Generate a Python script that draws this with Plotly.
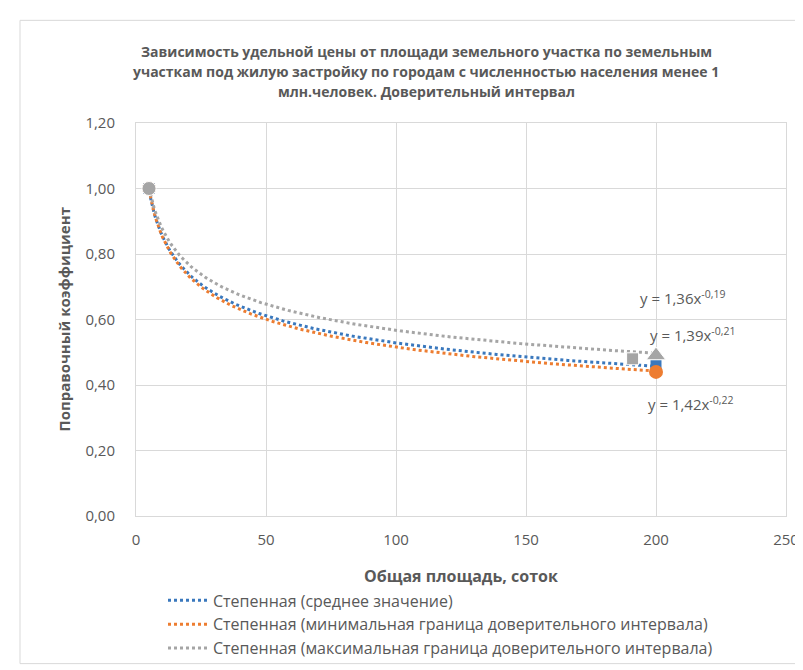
import numpy as np
import plotly.graph_objects as go

# ---- data ----
series_names = [
    "Степенная (среднее значение)",
    "Степенная (минимальная граница доверительного интервала)",
    "Степенная (максимальная граница доверительного интервала)",
]
series_colors = ["#3a78bd", "#ED7D31", "#A5A5A5"]
# trend-line coefficients as printed on the chart: y = a * x^b
trend_a = [1.39, 1.42, 1.36]
trend_b = [-0.21, -0.22, -0.19]
trend_labels = ["y = 1,39x<sup>-0,21</sup>", "y = 1,42x<sup>-0,22</sup>", "y = 1,36x<sup>-0,19</sup>"]
label_x = [197, 196, 193]
label_y = [0.553, 0.344, 0.666]

# observed points
mean_x = [5, 200]
mean_y = [1.00, 0.46]
min_x = [5, 200]
min_y = [1.00, 0.44]
max_x = [5, 191, 200]
max_y = [1.00, 0.48, 0.49]
max_symbols = ["circle", "square", "triangle-up"]

x_ticks = [0, 50, 100, 150, 200, 250]
y_ticks = [0.0, 0.2, 0.4, 0.6, 0.8, 1.0, 1.2]

title_lines = [
    "Зависимость удельной цены от площади земельного участка по земельным",
    "участкам под жилую застройку по городам с численностью населения менее 1",
    "млн.человек. Доверительный интервал",
]
x_title = "Общая площадь, соток"
y_title = "Поправочный коэффициент"

FONT = "Open Sans"
GRAY = "#595959"

fig = go.Figure()

# trend lines
x_start, x_end = min(mean_x), max(mean_x)
xs = np.linspace(x_start, x_end, 300)
for name, color, a, b in zip(series_names, series_colors, trend_a, trend_b):
    fig.add_trace(go.Scatter(
        x=xs, y=a * xs ** b, mode="lines", name=name,
        line=dict(color=color, width=3, dash="dot"),
        hoverinfo="skip",
    ))

# data points (not in legend)
fig.add_trace(go.Scatter(x=mean_x, y=mean_y, mode="markers", showlegend=False,
                         marker=dict(color=series_colors[0], size=11, symbol="square", opacity=1)))
fig.add_trace(go.Scatter(x=min_x, y=min_y, mode="markers", showlegend=False,
                         marker=dict(color=series_colors[1], size=14, symbol="circle", opacity=1)))
fig.add_trace(go.Scatter(x=max_x, y=max_y, mode="markers", showlegend=False,
                         marker=dict(color=series_colors[2], size=[14, 12, 17], symbol=max_symbols,
                                     opacity=1)))

annotations = []
# equation labels
for t, lx, ly in zip(trend_labels, label_x, label_y):
    annotations.append(dict(x=lx, y=ly, xref="x", yref="y", text=t, showarrow=False,
                            xanchor="left", yanchor="middle",
                            font=dict(family=FONT, size=15, color=GRAY)))

W, H = 803, 670
L, R, T, B = 128, 778, 115, 517
def px_to_py(py):
    return (B - py) / (B - T)
def px_to_px(px):
    return (px - L) / (R - L)

# title lines
for line, py in zip(title_lines, [42, 62, 83]):
    annotations.append(dict(x=px_to_px(418), y=px_to_py(py), xref="paper", yref="paper",
                            text="<b>" + line + "</b>", showarrow=False,
                            xanchor="center", yanchor="middle",
                            font=dict(family=FONT, size=14, color=GRAY)))
# axis titles
annotations.append(dict(x=0.5, y=px_to_py(578), xref="paper", yref="paper",
                        text="<b>" + x_title + "</b>", showarrow=False,
                        xanchor="center", yanchor="middle",
                        font=dict(family=FONT, size=16, color=GRAY)))
annotations.append(dict(x=px_to_px(55), y=0.5, xref="paper", yref="paper",
                        text="<b>" + y_title + "</b>", showarrow=False, textangle=-90,
                        xanchor="center", yanchor="middle",
                        font=dict(family=FONT, size=15, color=GRAY)))

shapes = [dict(type="rect", xref="paper", yref="paper",
               x0=px_to_px(12), x1=px_to_px(801), y0=px_to_py(668), y1=px_to_py(10),
               line=dict(color="#d9d9d9", width=1), fillcolor="rgba(0,0,0,0)", layer="below")]

fig.update_layout(
    width=W, height=H,
    margin=dict(l=L, r=W - R, t=T, b=H - B),
    paper_bgcolor="white", plot_bgcolor="white",
    separators=", ",
    font=dict(family=FONT, color=GRAY, size=15),
    annotations=annotations,
    shapes=shapes,
    legend=dict(x=px_to_px(155), y=px_to_py(586), xanchor="left", yanchor="top",
                font=dict(family=FONT, size=16, color=GRAY),
                bgcolor="rgba(0,0,0,0)", tracegroupgap=0, itemwidth=40),
    xaxis=dict(range=[0, 250], tickvals=x_ticks, showgrid=True, gridcolor="#d9d9d9",
               showline=True, linecolor="#d9d9d9", mirror=True, zeroline=False,
               ticks="outside", ticklen=10, tickcolor="rgba(0,0,0,0)",
               tickfont=dict(family=FONT, size=15, color=GRAY)),
    yaxis=dict(range=[0, 1.2], tickvals=y_ticks, tickformat=".2f", showgrid=True,
               gridcolor="#d9d9d9", showline=True, linecolor="#d9d9d9", mirror=True,
               zeroline=False, ticks="outside", ticklen=17, tickcolor="rgba(0,0,0,0)",
               tickfont=dict(family=FONT, size=15, color=GRAY)),
)

fig.write_html("out.html")
